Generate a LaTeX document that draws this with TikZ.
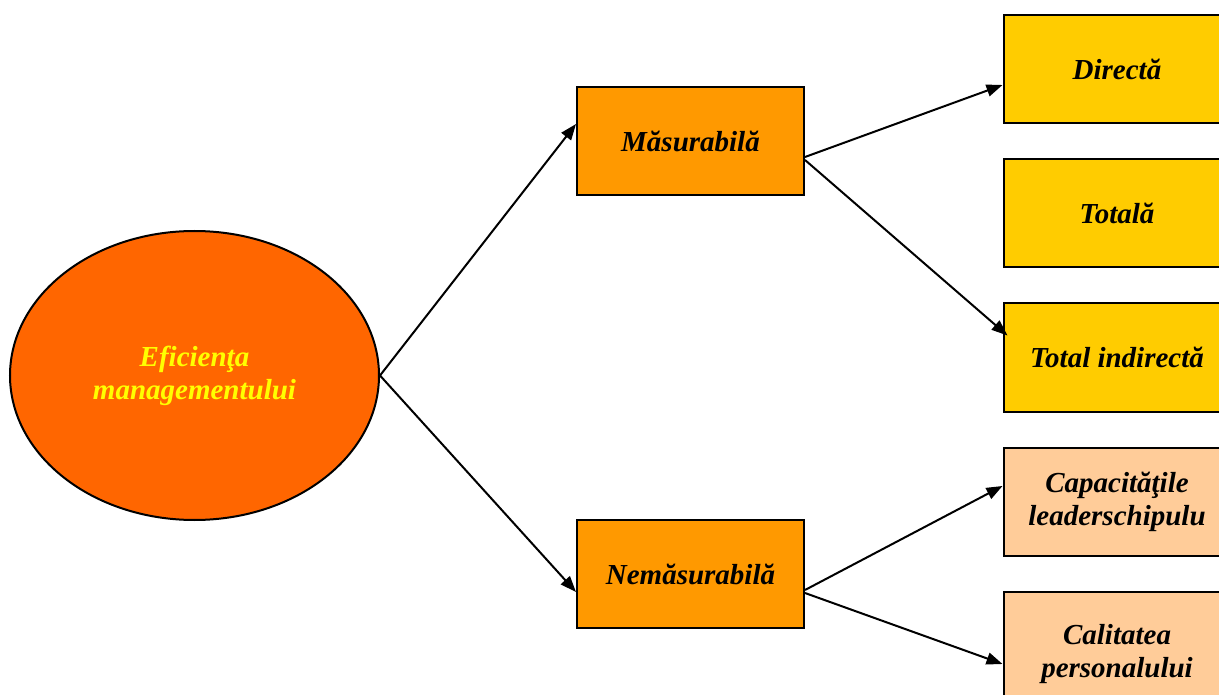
\documentclass[tikz,border=0pt]{standalone}
\usepackage{fontspec}
\setmainfont{Liberation Serif}
\usetikzlibrary{arrows.meta,shapes.geometric}
\definecolor{ellfill}{HTML}{FF6600}
\definecolor{midfill}{HTML}{FF9900}
\definecolor{yelfill}{HTML}{FFCC00}
\definecolor{peachfill}{HTML}{FFCC99}
\definecolor{txtyellow}{HTML}{FFFF00}
\tikzset{
  lbl/.style={font=\fontsize{29}{33}\selectfont\bfseries\itshape, align=center},
  box/.style={lbl, draw=black, line width=2pt, rectangle, minimum width=227pt, minimum height=108pt, inner sep=0pt},
  midbox/.style={box, fill=midfill},
  yelbox/.style={box, fill=yelfill},
  peachbox/.style={box, fill=peachfill},
  ellnode/.style={lbl, ellipse, draw=black, line width=2pt, fill=ellfill, text=txtyellow, minimum width=369pt, minimum height=289pt, inner sep=0pt},
  conn/.style={line width=2pt, -{Triangle[length=16pt,width=12pt]}}
}
\begin{document}
\begin{tikzpicture}[x=1pt,y=-1pt]
\useasboundingbox (0,0) rectangle (1219,695);
\clip (0,0) rectangle (1219,695);
\node[ellnode] (E) at (194.5,375.5) {Eficienţa\\managementului};
\node[midbox] (M) at (690.5,141) {Măsurabilă};
\node[midbox] (N) at (690.5,574) {Nemăsurabilă};
\node[yelbox] (D) at (1117,69) {Directă};
\node[yelbox] (T) at (1117,213) {Totală};
\node[yelbox] (TI) at (1117,357.5) {Total indirectă};
\node[peachbox] (C) at (1117,502) {Capacităţile\\leaderschipulu};
\node[peachbox, minimum height=125pt] (CP) at (1117,654.5) {Calitatea\\personalului};
\draw[conn] (E.east) -- ([yshift=17pt]M.west);
\draw[conn] (E.east) -- ([yshift=-18pt]N.west);
\draw[conn] ([yshift=-16pt]M.east) -- ([yshift=-16pt]D.west);
\draw[conn] ([yshift=-19pt]M.east) -- ([xshift=5pt,yshift=22pt]TI.west);
\draw[conn] ([yshift=-16pt]N.east) -- ([yshift=16pt]C.west);
\draw[conn] ([yshift=-19pt]N.east) -- ([yshift=-9.5pt]CP.west);
\end{tikzpicture}
\end{document}
